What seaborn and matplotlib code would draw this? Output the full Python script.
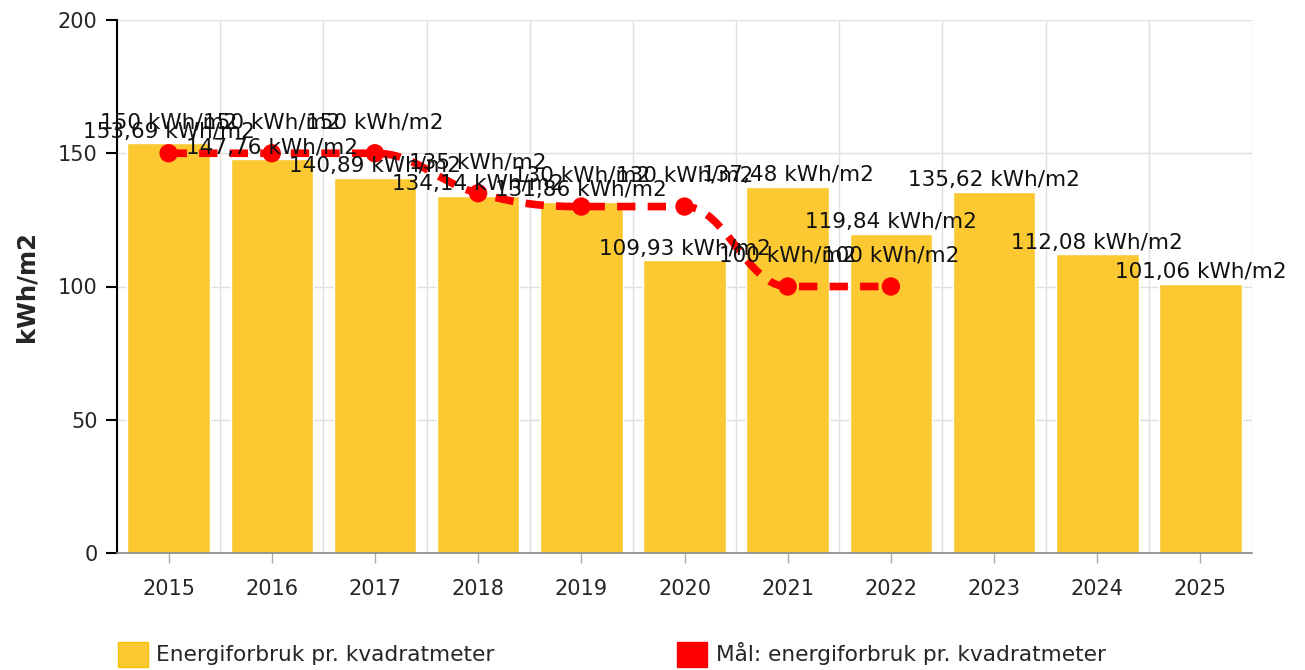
import numpy as np
import pandas as pd
import matplotlib
matplotlib.use("Agg")
import matplotlib.pyplot as plt
from matplotlib.path import Path
from matplotlib.patches import PathPatch, Patch
import seaborn as sns

# --- data ---
years = ["2015", "2016", "2017", "2018", "2019", "2020", "2021", "2022", "2023", "2024", "2025"]
forbruk = [153.69, 147.76, 140.89, 134.14, 131.86, 109.93, 137.48, 119.84, 135.62, 112.08, 101.06]
maal_years = ["2015", "2016", "2017", "2018", "2019", "2020", "2021", "2022"]
maal = [150, 150, 150, 135, 130, 130, 100, 100]

bar_label = "Energiforbruk pr. kvadratmeter"
line_label = "Mål: energiforbruk pr. kvadratmeter"
yellow = "#fcc932"
red = "#ff0000"


def fmt(v):
    s = f"{v:.2f}".rstrip("0").rstrip(".")
    return s.replace(".", ",") + " kWh/m2"


def spline_path(xs, ys, smoothing=1.5):
    # highcharts-like spline: bezier control points from neighbours
    denom = smoothing + 1
    verts = [(xs[0], ys[0])]
    codes = [Path.MOVETO]
    prev_right = (xs[0], ys[0])
    for i in range(1, len(xs)):
        x, y = xs[i], ys[i]
        lx, ly = xs[i - 1], ys[i - 1]
        if i < len(xs) - 1:
            nx, ny = xs[i + 1], ys[i + 1]
            lcx = (smoothing * x + lx) / denom
            lcy = (smoothing * y + ly) / denom
            rcx = (smoothing * x + nx) / denom
            rcy = (smoothing * y + ny) / denom
            corr = (rcy - lcy) * (rcx - x) / (rcx - lcx) + y - rcy
            lcy += corr
            rcy += corr
            if lcy > ly and lcy > y:
                lcy = max(ly, y); rcy = 2 * y - lcy
            elif lcy < ly and lcy < y:
                lcy = min(ly, y); rcy = 2 * y - lcy
            if rcy > ny and rcy > y:
                rcy = max(ny, y); lcy = 2 * y - rcy
            elif rcy < ny and rcy < y:
                rcy = min(ny, y); lcy = 2 * y - rcy
        else:
            lcx, lcy, rcx, rcy = x, y, x, y
        verts += [prev_right, (lcx, lcy), (x, y)]
        codes += [Path.CURVE4] * 3
        prev_right = (rcx, rcy)
    return Path(verts, codes)


df = pd.DataFrame({"year": years, "value": forbruk})
dm = pd.DataFrame({"year": maal_years, "value": maal})
dm["pos"] = [years.index(y) for y in maal_years]

sns.set_style("white")
plt.rcParams["font.family"] = ["DejaVu Sans"]

fig = plt.figure(figsize=(13.05, 6.7), dpi=100)
ax = fig.add_axes([117 / 1305, 1 - 553 / 670, (1252 - 117) / 1305, (553 - 20) / 670])

sns.barplot(data=df, x="year", y="value", color=yellow, saturation=1, width=0.8, ax=ax, zorder=2)

path = spline_path(dm["pos"].tolist(), dm["value"].tolist())
ax.add_patch(PathPatch(path, fill=False, edgecolor=red, lw=5.5, linestyle=(0, (2.4, 1.6)), zorder=3))
sns.scatterplot(x=dm["pos"], y=dm["value"], color=red, s=175, edgecolor="none", ax=ax, zorder=4)

for i, v in enumerate(forbruk):
    ax.annotate(fmt(v), (i, v), xytext=(0, 1), textcoords="offset points",
                ha="center", va="bottom", fontsize=15.5, color="#111111", zorder=5)
for p, v in zip(dm["pos"], maal):
    ax.annotate(fmt(v), (p, v), xytext=(0, 15), textcoords="offset points",
                ha="center", va="bottom", fontsize=15.5, color="#111111", zorder=5)

ax.set_xlim(-0.5, len(years) - 0.5)
ax.set_ylim(0, 200)
ax.set_yticks([0, 50, 100, 150, 200])
ax.set_xticks(range(len(years)))
ax.set_xticks(np.arange(-0.5, len(years), 1), minor=True)
ax.grid(axis="y", which="major", color="#e0e0e0", lw=1, zorder=0)
ax.grid(axis="x", which="minor", color="#e0e0e0", lw=1, zorder=0)
ax.set_axisbelow(True)
ax.set_xlabel("")
ax.set_ylabel("kWh/m2", fontsize=17.5, fontweight="bold", labelpad=14)

for s in ["top", "right"]:
    ax.spines[s].set_visible(False)
ax.spines["left"].set_color("black")
ax.spines["left"].set_linewidth(1.5)
ax.spines["bottom"].set_color("#888888")
ax.spines["bottom"].set_linewidth(1.2)
ax.tick_params(axis="y", left=True, length=8, width=1.5, color="black", labelsize=15, pad=6)
ax.tick_params(axis="x", which="major", bottom=True, length=7, width=1, color="#aaaaaa", labelsize=15, pad=12)
ax.tick_params(axis="x", which="minor", bottom=False)

handles = [Patch(facecolor=yellow, edgecolor="#f5c000", label=bar_label),
           Patch(facecolor=red, edgecolor=red, label=line_label)]
fig.legend(handles=handles, loc="lower left", bbox_to_anchor=(98 / 1305, -0.024), ncol=2,
           frameon=False, fontsize=15.6, handlelength=1.4, handleheight=1.4,
           handletextpad=0.4, columnspacing=8.4)

fig.savefig("out.png", dpi=100)
